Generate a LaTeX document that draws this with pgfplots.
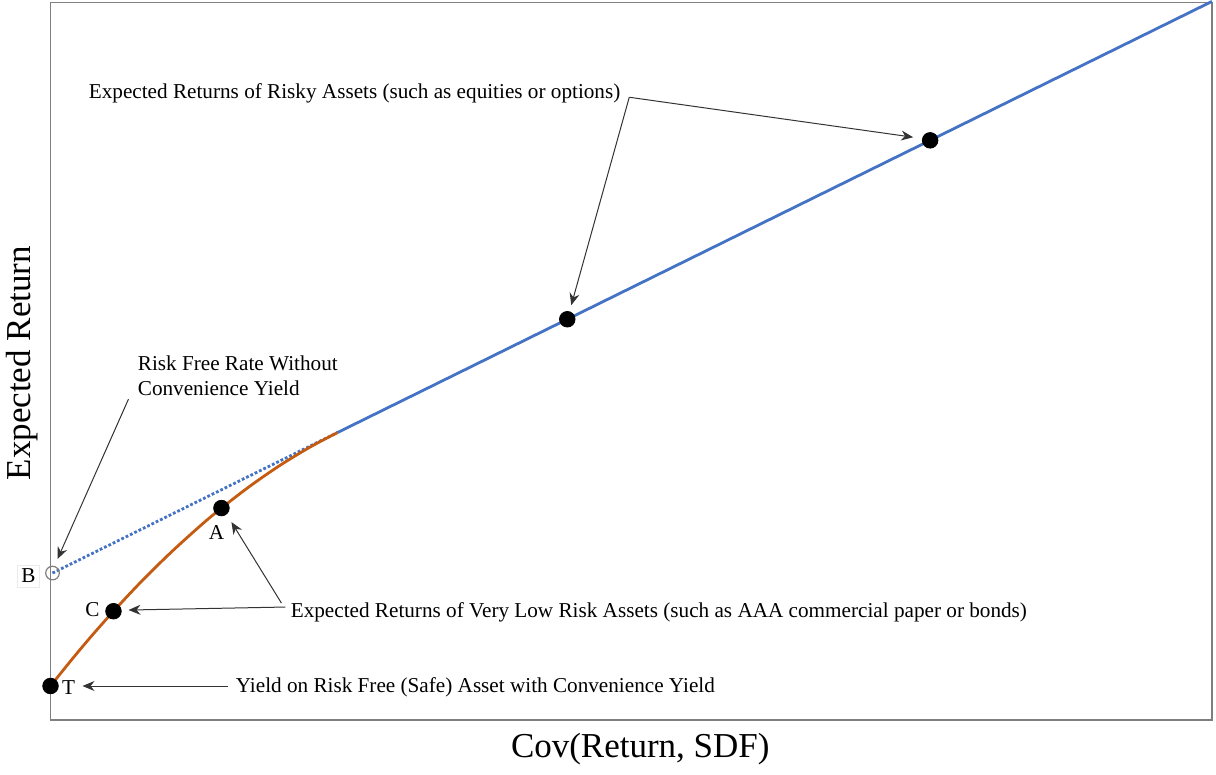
\documentclass[border=0pt]{standalone}
\usepackage{pgfplots}
\pgfplotsset{compat=1.18}
\usepackage{fontspec}
\setmainfont{Liberation Serif}
\usetikzlibrary{arrows.meta}
\definecolor{lblue}{HTML}{4472C4}
\definecolor{lorange}{HTML}{C55A11}
\definecolor{frame}{HTML}{7F7F7F}
\begin{document}
\begin{tikzpicture}
\begin{axis}[
  scale only axis,
  width=581pt, height=359pt,
  xmin=50, xmax=1212, ymin=0, ymax=718,
  axis line style={frame, line width=0.6pt},
  xtick=\empty, ytick=\empty,
  clip=false,
  font=\fontsize{10.6}{12.6}\selectfont,
]
\path (axis cs:0,-55) rectangle (axis cs:1216,719);
% axis labels
\node[rotate=90, font=\fontsize{17.5}{20}\selectfont] at (axis cs:22,357) {Expected Return};
\node[font=\fontsize{17.5}{20}\selectfont] at (axis cs:640,-29) {Cov(Return, SDF)};
% blue line: dotted part and solid part
\addplot[lblue, densely dotted, line width=1.4pt] coordinates {(52,147) (337,287.5)};
\addplot[lblue, line width=1.4pt] coordinates {(337,287.5) (1212,718.9)};
% orange curve
\addplot[lorange, line width=1.4pt, smooth] coordinates {
 (50,34.0) (70,58.9) (90,82.8) (113,108.8) (140,137.6) (170,167.2)
 (200,194.4) (221,212.0) (250,234.3) (280,255.0) (310,273.2) (337,287.5)};
% markers
\addplot[only marks, mark=*, mark size=3.9pt, black] coordinates {
 (50,34.0) (113,108.8) (221,212.0) (567,400.9) (930,579.9)};
\addplot[only marks, mark=o, mark size=3.4pt, frame, line width=0.6pt] coordinates {(52,147)};
% point labels
\node[draw=black!8, inner sep=2pt] at (axis cs:28,144) {B};
\node at (axis cs:92,110) {C};
\node at (axis cs:216,188) {A};
\node at (axis cs:68,32) {T};
% annotations
\node[anchor=west, inner sep=0pt] at (axis cs:88,627) {Expected Returns of Risky Assets (such as equities or options)};
\node[anchor=west, align=left, inner sep=0pt] at (axis cs:137,344) {Risk Free Rate Without\\Convenience Yield};
\node[anchor=west, inner sep=0pt] at (axis cs:290,108) {Expected Returns of Very Low Risk Assets (such as AAA commercial paper or bonds)};
\node[anchor=west, inner sep=0pt] at (axis cs:235,33) {Yield on Risk Free (Safe) Asset with Convenience Yield};
\begin{scope}[-{Stealth[length=6pt,width=5pt]}, black!80, line width=0.5pt]
\draw (axis cs:629,623) -- (axis cs:913,583);
\draw (axis cs:629,623) -- (axis cs:571,415);
\draw (axis cs:128,321) -- (axis cs:57,161);
\draw (axis cs:285,113) -- (axis cs:128,110);
\draw (axis cs:281,117) -- (axis cs:231,198);
\draw (axis cs:228,34) -- (axis cs:82,34);
\end{scope}
\end{axis}
\end{tikzpicture}
\end{document}
